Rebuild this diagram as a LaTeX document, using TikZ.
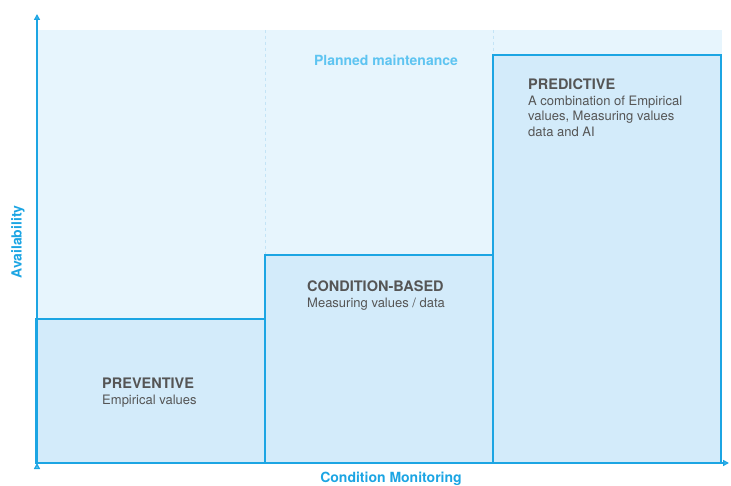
\documentclass[tikz,border=0pt]{standalone}
\usepackage{fontspec}
\setmainfont{TeX Gyre Heros}
\usetikzlibrary{arrows.meta}
\definecolor{axisblue}{HTML}{1CA5E3}
\definecolor{bgfill}{HTML}{E7F5FD}
\definecolor{boxfill}{HTML}{D3EBFA}
\definecolor{dashline}{HTML}{C4E4F6}
\definecolor{plannedblue}{HTML}{5EC4F1}
\definecolor{textgray}{HTML}{555555}

\begin{document}
\begin{tikzpicture}[x=1pt,y=-1pt,
  phase/.style={draw=axisblue,line width=1.8pt,fill=boxfill},
  phasetext/.style={anchor=north west,inner sep=0pt,align=left,text=textgray,font=\fontsize{13}{15.4}\selectfont},
  axistext/.style={inner sep=0pt,text=axisblue,font=\fontsize{14}{16}\selectfont\bfseries}]
\useasboundingbox (0,0) rectangle (731,486);

\fill[bgfill] (36,30) rectangle (722,463);
\draw[dashline,dashed,line width=0.8pt] (265,30) -- (265,255);
\draw[dashline,dashed,line width=0.8pt] (493,30) -- (493,55);

\draw[phase] (36,319) rectangle (265,463);
\draw[phase] (265,255) rectangle (493,463);
\draw[phase] (493,55) rectangle (721,463);

\node[phasetext] (prev) at (102,378) {{\fontsize{14.5}{15}\selectfont\bfseries PREVENTIVE}\\Empirical values};
\node[phasetext] (cond) at (307,281) {{\fontsize{14.5}{15}\selectfont\bfseries CONDITION-BASED}\\Measuring values / data};
\node[phasetext] (pred) at (528,79) {{\fontsize{14.5}{15}\selectfont\bfseries PREDICTIVE}\\A combination of Empirical\\values, Measuring values\\data and AI};

\node[axistext,text=plannedblue] (plan) at (386,60) {Planned maintenance};
\node[axistext,rotate=90] (avail) at (18,242) {Availability};
\node[axistext] (monit) at (391,479) {Condition Monitoring};

\coordinate (o) at (37,463);
\coordinate (ytop) at (37,14);
\coordinate (xend) at (729,463);

\path[draw=axisblue,line width=1.8pt,-{Triangle[open,length=6pt,width=6pt]}] (o) edge (ytop) (o) edge (xend);

\end{tikzpicture}
\end{document}
